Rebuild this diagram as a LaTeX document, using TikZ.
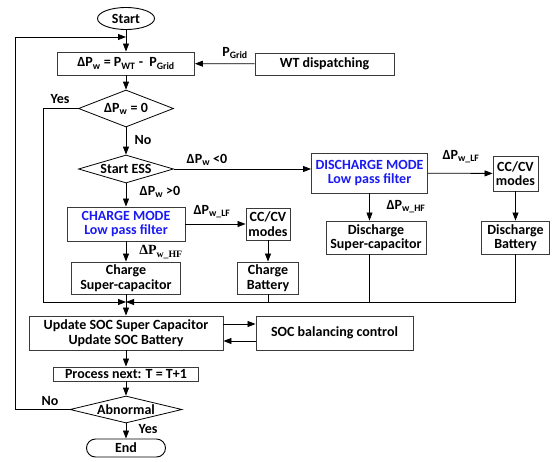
\documentclass[tikz,border=0pt]{standalone}
\usepackage{fontspec}
\setmainfont{Carlito}
\newfontfamily\timesfont{Liberation Serif}
\usepackage{xcolor}
\usetikzlibrary{arrows.meta,shapes.geometric}
\definecolor{modeblue}{HTML}{1A1AF5}
\definecolor{edge}{HTML}{3A3A3A}
\newcommand{\sbs}[1]{\textsubscript{#1}}
\tikzset{
  proc/.style={rectangle, draw=edge, line width=0.9pt, font=\fontsize{14}{14.5}\selectfont\bfseries,
               inner sep=1pt, align=center},
  mode/.style={proc, text=modeblue},
  term/.style={proc, draw=black},
  decision/.style={diamond, draw=black, line width=0.8pt, inner sep=0pt, aspect=1,
                   font=\fontsize{14}{14.5}\selectfont\bfseries},
  lbl/.style={font=\fontsize{14}{14.5}\selectfont\bfseries},
  arr/.style={-{Triangle[length=8pt,width=6pt]}, line width=0.8pt, draw=black},
  wire/.style={line width=0.8pt, draw=black},
}

\begin{document}
\begin{tikzpicture}[x=1pt,y=-1pt]
  \useasboundingbox (0,0) rectangle (552,461);
  % main column
  \node[term, ellipse, minimum width=57, minimum height=22, inner sep=0pt] (start) at (126,18.5) {Start};
  \node[proc, minimum width=137, minimum height=23] (dp) at (126,63.5) {ΔP\sbs{w} = P\sbs{WT} -~ P\sbs{Grid}};
  \node[proc, minimum width=139, minimum height=22] (wt) at (324.5,64) {WT dispatching};
  \node[decision, minimum width=95, minimum height=37] (zero) at (126,108.5) {\makebox[0pt]{ΔP\sbs{w} = 0}};
  \node[decision, minimum width=95, minimum height=28] (ess) at (126,169) {\makebox[0pt]{Start ESS}};
  % charge branch
  \node[mode, minimum width=118, minimum height=34] (chg) at (126,224) {CHARGE MODE\\Low pass filter};
  \node[proc, minimum width=44, minimum height=32] (ccL) at (268,224) {CC/CV\\modes};
  \node[proc, minimum width=109, minimum height=32] (csc) at (126,278) {Charge\\Super-capacitor};
  \node[proc, minimum width=61, minimum height=32] (cbat) at (268,278) {Charge\\Battery};
  % discharge branch
  \node[mode, minimum width=116, minimum height=40] (dis) at (369.5,173) {DISCHARGE MODE\\Low pass filter};
  \node[proc, minimum width=45, minimum height=35] (ccR) at (515.5,173.5) {CC/CV\\modes};
  \node[proc, minimum width=100, minimum height=33] (dsc) at (376,237.5) {Discharge\\Super-capacitor};
  \node[proc, minimum width=68, minimum height=33] (dbat) at (515.5,237.5) {Discharge\\Battery};
  % update and loop
  \node[proc, minimum width=194, minimum height=34] (upd) at (126,333) {Update SOC Super Capacitor\\Update SOC Battery};
  \node[proc, minimum width=157, minimum height=34] (bal) at (334.5,333) {SOC balancing control};
  \node[proc, minimum width=145, minimum height=14] (next) at (126,374) {Process next: T = T+1};
  \node[decision, minimum width=112, minimum height=27] (abn) at (126,409.5) {\makebox[0pt]{Abnormal}};
  \node[term, rounded corners=9pt, minimum width=79, minimum height=18, inner sep=0pt] (end) at (126,448) {End};

  \coordinate (back) at (15,37);
  \coordinate (merge) at (43,302);

  \draw[arr] (start) -- (dp);
  \draw[arr] (wt) -- (dp);
  \node[lbl] (pgrid) at (235,53) {P\sbs{Grid}};
  \draw[arr] (dp) -- (zero);
  \draw[arr] (zero) -- (ess);
  \node[lbl] (no1) at (143,140) {No};
  \node[lbl] (yes1) at (60,99) {Yes};
  \draw[arr] (zero.west) -| (merge) -- (merge -| upd.north);

  \draw[arr] (ess) -- (chg);
  \node[lbl] (gt) at (160,192) {ΔP\sbs{w} >0};
  \draw[arr] (ess.east) -- (ess.east -| dis.west);
  \node[lbl] (lt) at (207,160) {ΔP\sbs{w} <0};

  \draw[arr] (chg) -- (ccL);
  \node[lbl] (lfL) at (212,212) {ΔP\sbs{w\_LF}};
  \draw[arr] (chg) -- (csc);
  \node[lbl, font=\fontsize{14}{14.5}\selectfont\bfseries\timesfont] (hfL) at (161,252) {ΔP\sbs{w\_HF}};
  \draw[arr] (ccL) -- (cbat);

  \draw[arr] (dis) -- (ccR);
  \node[lbl] (lfR) at (461,157) {ΔP\sbs{w\_LF}};
  \draw[arr] (dis.south) -- (dis.south |- dsc.north);
  \node[lbl] (hfR) at (406,207) {ΔP\sbs{w\_HF}};
  \draw[arr] (ccR) -- (dbat);

  % collect everything at the merge line
  \draw[arr] (dbat.south) |- (merge -| upd.north);
  \draw[wire] (cbat.south) -- (cbat.south |- merge);
  \draw[wire] (dis.south |- dsc.south) -- (dis.south |- merge);
  \draw[arr] (csc) -- (upd);

  \draw[arr] ([yshift=9pt]upd.east) -- ([yshift=9pt]bal.west);
  \draw[arr] ([yshift=-8pt]bal.west) -- ([yshift=-8pt]upd.east);
  \draw[arr] (upd) -- (next);
  \draw[arr] (next) -- (abn);
  \draw[arr] (abn) -- (end);
  \node[lbl] (yes2) at (148,429) {Yes};
  \node[lbl] (no2) at (50,401) {No};
  \draw[arr] (abn.west) -| (back) -- (back -| dp.north);
\end{tikzpicture}
\end{document}
